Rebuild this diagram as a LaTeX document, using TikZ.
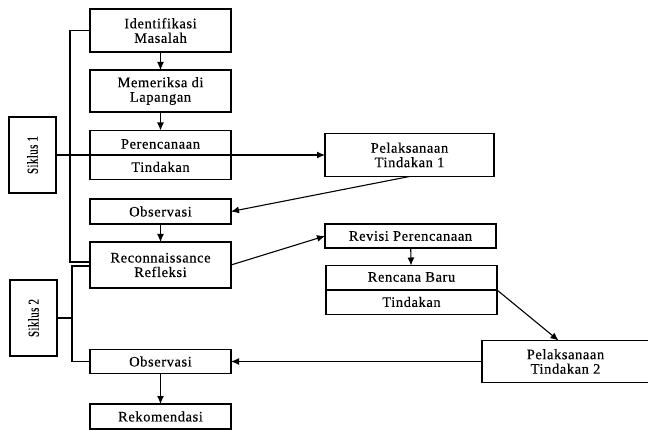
\documentclass[tikz,border=0pt]{standalone}
\usepackage{fontspec}
\setmainfont{Liberation Serif}[LetterSpace=4,FakeBold=0.4]
\usetikzlibrary{arrows.meta}

\begin{document}
\begin{tikzpicture}[
    x=1pt, y=-1pt,
    line width=1.1pt,
    box/.style={
      draw,
      align=center,
      inner sep=0pt,
      outer sep=0pt,
      font=\fontsize{14.5}{14.5}\selectfont
    },
    lbl/.style={
      inner sep=0pt,
      font=\fontsize{14.5}{14.5}\selectfont
    },
    arr/.style={-{Latex[length=8pt,width=7pt]}}
  ]
  \clip (0,0) rectangle (648,430);

  % left column
  \node[box, minimum width=141pt, minimum height=43pt] (ident) at (160.5,30.5) {Identifikasi\\Masalah};
  \node[box, minimum width=141pt, minimum height=42pt] (periksa) at (160.5,91) {Memeriksa di\\Lapangan};
  \node[box, minimum width=141pt, minimum height=49pt] (rencana) at (160.5,155) {};
  \node[lbl] (rencanaA) at ([yshift=11pt]rencana.center) {Perencanaan};
  \node[lbl] (rencanaB) at ([yshift=-12pt]rencana.center) {Tindakan};
  \node[box, minimum width=141pt, minimum height=25pt] (obs1) at (160.5,211.5) {Observasi};
  \node[box, minimum width=141pt, minimum height=46pt] (recon) at (160.5,265) {Reconnaissance\\Refleksi};
  \node[box, minimum width=141pt, minimum height=24pt] (obs2) at (160.5,361.5) {Observasi};
  \node[box, minimum width=141pt, minimum height=25pt] (rekom) at (160.5,416.5) {Rekomendasi};

  % siklus
  \node[box, minimum width=47pt, minimum height=76pt] (s1) at (32.5,155) {};
  \node[lbl, rotate=90] (s1txt) at (s1.center) {\scalebox{0.75}[1.05]{Siklus 1}};
  \node[box, minimum width=47pt, minimum height=76pt] (s2) at (33.5,318) {};
  \node[lbl, rotate=90] (s2txt) at (s2.center) {\scalebox{0.75}[1.05]{Siklus 2}};

  % right column
  \node[box, minimum width=169pt, minimum height=43pt] (pel1) at (409.5,155) {Pelaksanaan\\Tindakan 1};
  \node[box, minimum width=171pt, minimum height=24pt] (revisi) at (410.5,236) {Revisi Perencanaan};
  \node[box, minimum width=171pt, minimum height=49pt] (baru) at (411.5,290) {};
  \node[lbl] (baruA) at ([yshift=13pt]baru.center) {Rencana Baru};
  \node[lbl] (baruB) at ([yshift=-12pt]baru.center) {Tindakan};
  \node[box, minimum width=167pt, minimum height=42pt] (pel2) at (565.5,361.5) {Pelaksanaan\\Tindakan 2};

  % brackets
  \coordinate (sp1) at (70,155);
  \coordinate (sp2) at (72,318);
  \draw (ident.west) -| (sp1) |- ([yshift=3pt]recon.west);
  \draw (s1.east) -- (sp1) -- (rencana.west);
  \draw ([yshift=-1pt]recon.west) -| (sp2) |- (obs2.west);
  \draw (s2.east) -- (sp2);

  % dividers
  \draw (rencana.west) -- (rencana.east);
  \draw (baru.west) -- (baru.east);

  % flow
  \draw[arr] (ident) -- (periksa);
  \draw[arr] (periksa) -- (rencana);
  \draw[arr] (rencana.east) -- (pel1.west);
  \draw[arr] (pel1.south) -- (obs1.east);
  \draw[arr] (obs1) -- (recon);
  \draw[arr] (recon.east) -- (revisi.west);
  \draw[arr] (revisi) -- (baru);
  \draw[arr] (baru.east) -- ([xshift=-7pt]pel2.north);
  \draw[arr] (pel2.west) -- (obs2.east);
  \draw[arr] (obs2) -- (rekom);
\end{tikzpicture}
\end{document}
